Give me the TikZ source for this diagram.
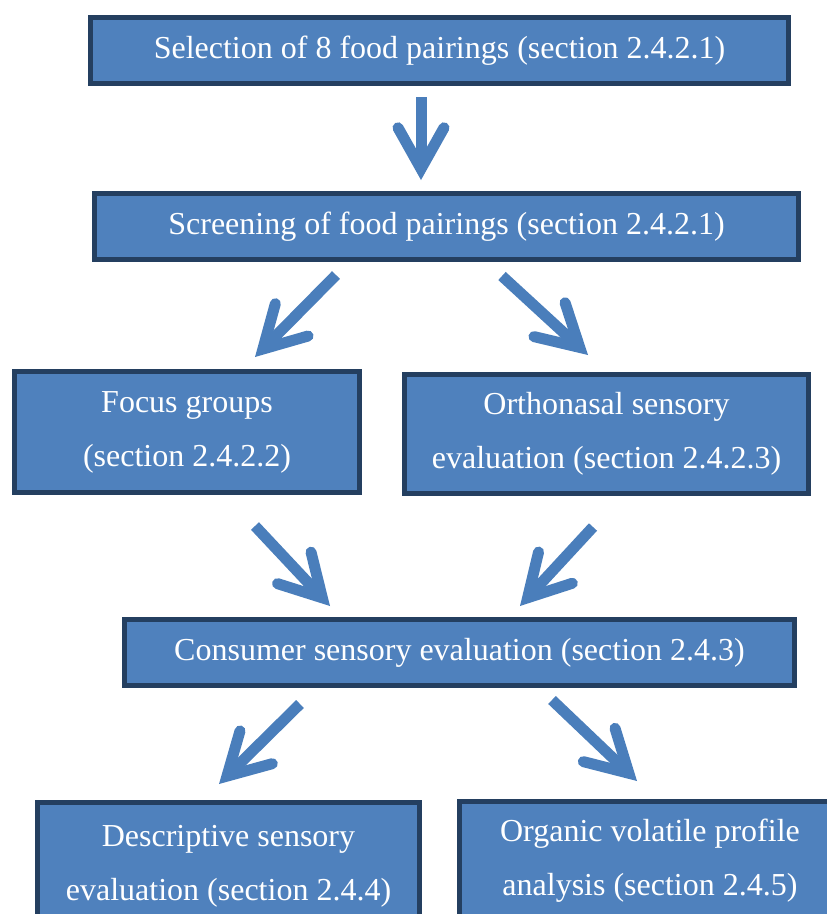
\documentclass[tikz,border=0pt]{standalone}
\usepackage{fontspec}
\setmainfont{Liberation Serif}
\usetikzlibrary{arrows.meta}
\definecolor{boxfill}{RGB}{79,129,189}
\definecolor{boxline}{RGB}{36,63,96}
\definecolor{arrowblue}{RGB}{74,126,187}
\begin{document}
\begin{tikzpicture}[x=1pt,y=-1pt]
		\tikzstyle{stage}=[rectangle,draw=boxline,fill=boxfill,line width=5pt,inner sep=0pt,text=white,align=center,font=\fontsize{32}{54}\selectfont]
		\tikzstyle{flow}=[draw=arrowblue,line width=11pt,-{Straight Barb[length=41pt,width=46pt,line cap=round,line join=miter]}]
		\useasboundingbox (0,0) rectangle (827,914);
		\clip (0,0) rectangle (827,914);
		\node[stage,minimum width=698pt,minimum height=66pt] (s_1) at (439.5,50.3) {Selection of 8 food pairings (section 2.4.2.1)};
		\node[stage,minimum width=704pt,minimum height=66pt] (s_2) at (446.5,226.3) {Screening of food pairings (section 2.4.2.1)};
		\node[stage,minimum width=345pt,minimum height=121pt] (s_3) at (187,432) {Focus groups\\(section 2.4.2.2)};
		\node[stage,minimum width=404pt,minimum height=119pt] (s_4) at (606.5,434) {Orthonasal sensory\\evaluation (section 2.4.2.3)};
		\node[stage,minimum width=670pt,minimum height=66pt] (s_5) at (459.5,652.5) {Consumer sensory evaluation (section 2.4.3)};
		\node[stage,minimum width=382pt,minimum height=127pt] (s_6) at (228.5,866) {Descriptive sensory\\evaluation (section 2.4.4)};
		\node[stage,minimum width=381pt,minimum height=119pt] (s_7) at (650,861) {Organic volatile profile\\analysis (section 2.4.5)};
		\coordinate (f_1) at (421,97);  \coordinate (t_1) at (421,180);
		\coordinate (f_2) at (336,275); \coordinate (t_2) at (255,357);
		\coordinate (f_3) at (502,276); \coordinate (t_3) at (588,355);
		\coordinate (f_4) at (255,526); \coordinate (t_4) at (330,606);
		\coordinate (f_5) at (593,527); \coordinate (t_5) at (520,606);
		\coordinate (f_6) at (300,704); \coordinate (t_6) at (219,784);
		\coordinate (f_7) at (552,700); \coordinate (t_7) at (637,781);
		\foreach \i in {1,...,7} \draw[flow] (f_\i) -- (t_\i);
	\end{tikzpicture}
\end{document}
